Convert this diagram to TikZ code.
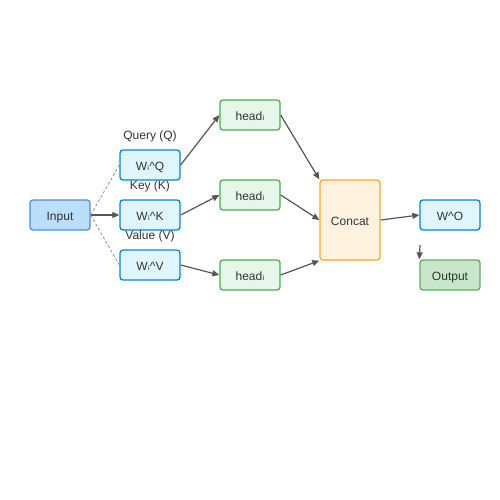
\documentclass[tikz,border=0pt]{standalone}
\usepackage{fontspec}
\setmainfont{Liberation Sans}
\newfontfamily\subfont{DejaVu Sans}
\usetikzlibrary{arrows.meta}
\definecolor{txtgray}{HTML}{333333}
\definecolor{linegray}{HTML}{555555}
\definecolor{inputfill}{HTML}{BBDEFB}
\definecolor{inputdraw}{HTML}{4A90D9}
\definecolor{wfill}{HTML}{E1F5FE}
\definecolor{wdraw}{HTML}{0288D1}
\definecolor{headfill}{HTML}{E8F5E9}
\definecolor{headdraw}{HTML}{4CAF50}
\definecolor{catfill}{HTML}{FFF3E0}
\definecolor{catdraw}{HTML}{FFA726}
\definecolor{outfill}{HTML}{C8E6C9}
\definecolor{outdraw}{HTML}{5CAF60}
\newcommand{\isub}{{\subfont ᵢ}}
\begin{document}
\begin{tikzpicture}[
            x=1pt, y=-1pt,
            every node/.style={font=\fontsize{12}{14}\selectfont, text=txtgray},
            box/.style={rectangle, rounded corners=3pt, line width=1.3pt,
                minimum width=60pt, minimum height=30pt, inner sep=0pt,
                text height=11pt, text depth=0.4pt},
            inbox/.style={box, draw=inputdraw, fill=inputfill},
            wbox/.style={box, draw=wdraw, fill=wfill},
            headbox/.style={box, draw=headdraw, fill=headfill},
            catbox/.style={box, draw=catdraw, fill=catfill, minimum height=80pt},
            outbox/.style={box, draw=outdraw, fill=outfill},
            link/.style={draw=linegray, line width=1.2pt, -{Triangle[length=7pt,width=6pt]}},
            split/.style={draw=linegray!70, line width=0.7pt, dash pattern=on 3pt off 2pt}]

            \useasboundingbox (0,0) rectangle (500,500);

            \node[inbox] (input) at (60,215) {Input};

            \node[wbox] (wq) at (150,165) {W\isub\textasciicircum Q};
            \node[wbox] (wk) at (150,215) {W\isub\textasciicircum K};
            \node[wbox] (wv) at (150,265) {W\isub\textasciicircum V};

            \node (lq) at (150,136.5) {Query (Q)};
            \node (lk) at (150,186.5) {Key (K)};
            \node (lv) at (150,236.5) {Value (V)};

            \node[headbox] (h1) at (250,115) {head\isub};
            \node[headbox] (h2) at (250,195) {head\isub};
            \node[headbox] (h3) at (250,275) {head\isub};

            \node[catbox] (concat) at (350,220) {Concat};
            \node[wbox] (wo) at (450,215) {W\textasciicircum O};
            \node[outbox] (output) at (450,275) {Output};

            % input to projections
            \draw[link] (input.east) -- (wk.west);
            \draw[split] (input.east) -- (wq.west);
            \draw[split] (input.east) -- (wv.west);

            % projections to heads
            \draw[link] (wq.east) -- (h1.west);
            \draw[link] (wk.east) -- (h2.west);
            \draw[link] (wv.east) -- (h3.west);

            % heads to concat
            \draw[link] (h1.east) -- (concat.north west);
            \draw[link] (h2.east) -- (concat.west);
            \draw[link] (h3.east) -- (concat.south west);

            \draw[link] (concat.east) -- (wo.west);
            \coordinate (drop) at (420,245);
            \draw[link] (drop) -- (output.north west);
        \end{tikzpicture}
\end{document}
